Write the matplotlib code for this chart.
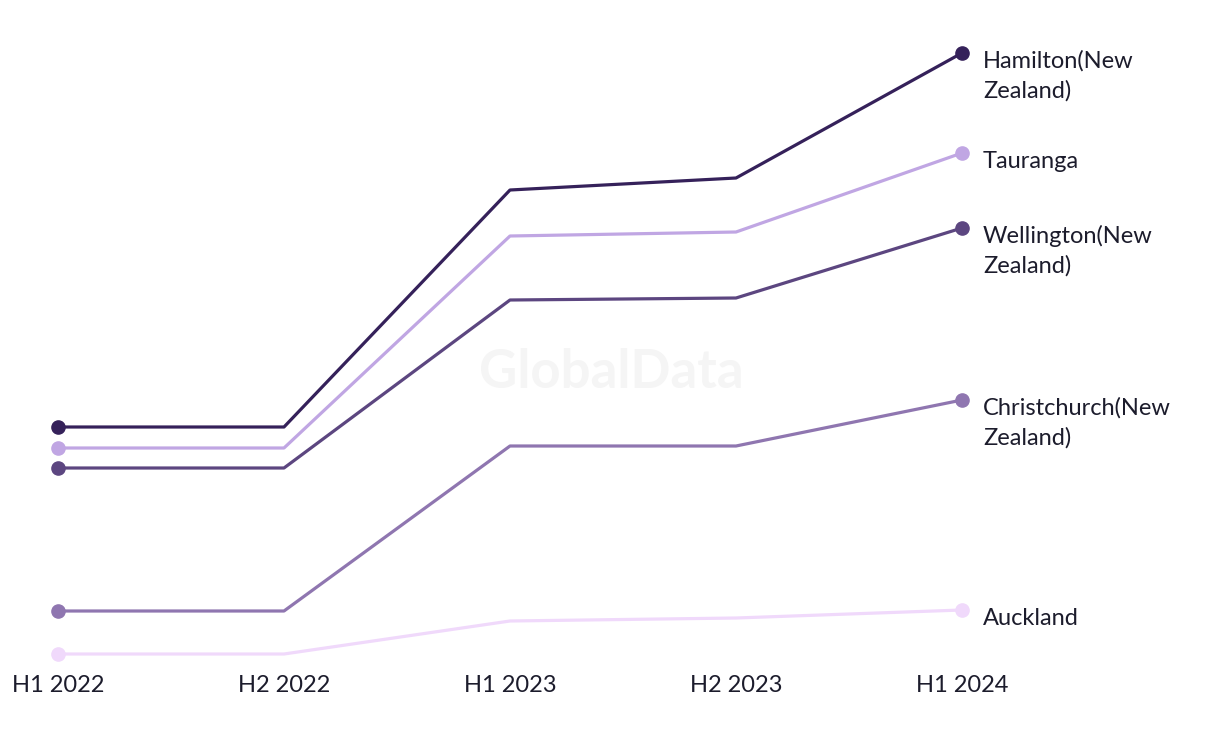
import matplotlib.pyplot as plt

periods = ['H1 2022', 'H2 2022', 'H1 2023', 'H2 2023', 'H1 2024']
cities = ['Hamilton(New\nZealand)', 'Tauranga', 'Wellington(New\nZealand)',
          'Christchurch(New\nZealand)', 'Auckland']
hamilton = [27.3, 27.3, 51.0, 52.2, 64.7]
tauranga = [25.2, 25.2, 46.4, 46.8, 54.7]
wellington = [23.2, 23.2, 40.0, 40.2, 47.2]
christchurch = [8.9, 8.9, 25.4, 25.4, 30.0]
auckland = [4.6, 4.6, 7.9, 8.2, 9.0]
series = [hamilton, tauranga, wellington, christchurch, auckland]
colors = ['#35215a', '#c0a6e3', '#5c4680', '#8f76b0', '#f0d9fb']

plt.rcParams['font.family'] = ['Lato', 'DejaVu Sans']
text_color = '#1c1c2c'

fig = plt.figure(figsize=(12.2, 7.44), dpi=100)
ax = fig.add_axes([58 / 1220, 1 - 654 / 744, 904 / 1220, 601 / 744])

x = list(range(len(periods)))
for vals, col, name in zip(series, colors, cities):
    ax.plot(x, vals, color=col, lw=2.3, solid_capstyle='round', clip_on=False, zorder=3)
    ax.plot([x[0], x[-1]], [vals[0], vals[-1]], 'o', color=col, ms=9.5,
            clip_on=False, zorder=4)
    # baseline alignment uses the last line, so push multi-line labels down
    n_lines = name.count('\n') + 1
    dy = -10.5 - (n_lines - 1) * 30 / 1.389
    ax.annotate(name, (x[-1], vals[-1]), xytext=(15, dy), textcoords='offset points',
                va='baseline', ha='left', fontsize=17, color=text_color,
                linespacing=1.47, annotation_clip=False)

ax.text(0.612, 0.5 + (654 - 373 - 300.5) / 601, 'GlobalData', transform=ax.transAxes,
        ha='center', va='center', fontsize=38, fontweight='bold', color='#f5f5f5',
        zorder=1)

ax.set_xlim(0, 4)
ax.set_ylim(4.6, 64.7)
ax.set_xticks(x)
ax.set_xticklabels(periods, fontsize=17, color=text_color)
ax.tick_params(axis='x', length=0, pad=15)
ax.set_yticks([])
for s in ax.spines.values():
    s.set_visible(False)

fig.savefig('out.png', dpi=100)
